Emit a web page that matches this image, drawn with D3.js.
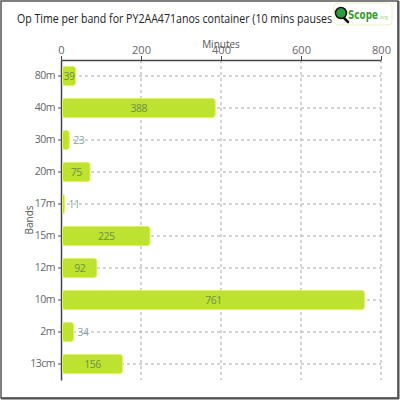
<!DOCTYPE html>
<html><head><meta charset="utf-8">
<script src="https://cdn.jsdelivr.net/npm/d3@7"></script>
<style>body{margin:0;background:#fff}svg{display:block}</style>
</head><body>
<script>
const bands = ["80m","40m","30m","20m","17m","15m","12m","10m","2m","13cm"];
const minutes = [39,388,23,75,11,225,92,761,34,156];
const xTicks = [0,200,400,600,800];
const title = "Op Time per band for PY2AA471anos container (10 mins pauses";

const W=400,H=400;
const svg=d3.select("body").append("svg").attr("width",W).attr("height",H);
const font="'Open Sans', sans-serif";
// frame
svg.append("rect").attr("x",1).attr("y",1).attr("width",397).attr("height",397)
  .attr("fill","#fff").attr("stroke","#555").attr("stroke-width",1.5);
svg.append("line").attr("x1",1).attr("x2",399).attr("y1",398.5).attr("y2",398.5).attr("stroke","#555").attr("stroke-width",2);
svg.append("line").attr("x1",398.5).attr("x2",398.5).attr("y1",1).attr("y2",399).attr("stroke","#555").attr("stroke-width",2);

svg.append("text").attr("x",17).attr("y",23).attr("font-family",font).attr("font-size",13)
  .attr("fill","#222").attr("textLength",315).attr("lengthAdjust","spacingAndGlyphs").text(title);

// logo
const lg=svg.append("g");
lg.append("rect").attr("x",334).attr("y",3).attr("width",58).attr("height",22).attr("rx",4)
  .attr("fill","none").attr("stroke","#eef0c8").attr("stroke-width",1);
lg.append("line").attr("x1",343).attr("y1",17).attr("x2",348).attr("y2",22).attr("stroke","#111").attr("stroke-width",2.5).attr("stroke-linecap","round");
lg.append("circle").attr("cx",341).attr("cy",13).attr("r",5.5).attr("fill","#2e9a3e").attr("stroke","#111").attr("stroke-width",1.5);
lg.append("text").attr("x",348).attr("y",19).attr("font-family","'DejaVu Sans Condensed',sans-serif").attr("font-weight","bold").attr("font-size",12)
  .attr("fill","#3a9a2a").attr("textLength",30).attr("lengthAdjust","spacingAndGlyphs").text("Scope");
lg.append("text").attr("x",379).attr("y",19).attr("font-family",font).attr("font-size",5).attr("fill","#a8d080").text(".org");

const m={l:61,r:381,t:60,b:380};
const x=d3.scaleLinear().domain([0,800]).range([m.l,m.r]);
const y=d3.scaleBand().domain(bands).range([m.t,m.b]).paddingInner(0.4).paddingOuter(0.2);

// grid
const g=svg.append("g");
g.selectAll(".vg").data(xTicks.slice(1)).join("line").attr("x1",d=>x(d)).attr("x2",d=>x(d))
  .attr("y1",m.t).attr("y2",m.b).attr("stroke","#aaa").attr("stroke-dasharray","3,3");
g.selectAll(".hg").data(bands).join("line").attr("x1",m.l).attr("x2",m.r)
  .attr("y1",d=>y(d)+y.bandwidth()/2).attr("y2",d=>y(d)+y.bandwidth()/2)
  .attr("stroke","#aaa").attr("stroke-dasharray","3,3");

// axes
const xa=svg.append("g").attr("transform",`translate(0,${m.t})`)
  .call(d3.axisTop(x).tickValues(xTicks).tickSize(4).tickSizeOuter(0).tickPadding(2));
xa.select(".domain").attr("stroke","#444").attr("stroke-width",1.5);
xa.selectAll(".tick line").attr("stroke","#444");
xa.selectAll("text").attr("font-family",font).attr("font-size",11).attr("fill","#666");
const ya=svg.append("g").attr("transform",`translate(${m.l},0)`)
  .call(d3.axisLeft(y).tickSize(3).tickSizeOuter(0));
ya.select(".domain").attr("stroke","#444").attr("stroke-width",1.5);
ya.selectAll(".tick line").attr("stroke","#444");
ya.selectAll("text").attr("font-family",font).attr("font-size",10.5).attr("fill","#666").attr("letter-spacing","-0.5");

svg.append("text").attr("x",(m.l+m.r)/2).attr("y",48).attr("text-anchor","middle")
  .attr("font-family",font).attr("font-size",10).attr("fill","#555").text("Minutes");
svg.append("text").attr("transform",`translate(33,${(m.t+m.b)/2}) rotate(-90)`).attr("text-anchor","middle")
  .attr("font-family",font).attr("font-size",10).attr("fill","#555").text("Bands");

// bars
const data=bands.map((b,i)=>({b,v:minutes[i]}));
const x0=x(0)+1.5;
svg.selectAll(".bar").data(data).join("rect")
  .attr("x",x0).attr("y",d=>y(d.b)).attr("width",d=>Math.max(1,x(d.v)-1-x0))
  .attr("height",y.bandwidth()).attr("rx",3)
  .attr("fill","#bde22f").attr("stroke","#dcf060").attr("stroke-width",1);
svg.selectAll(".lbl").data(data).join("text")
  .attr("x",d=>d.v>=35?(x0+(x(d.v)-1-x0)/2):x(d.v)+3)
  .attr("y",d=>y(d.b)+y.bandwidth()/2).attr("dy","0.35em")
  .attr("text-anchor",d=>d.v>=35?"middle":"start")
  .attr("font-family",font).attr("font-size",10.5).attr("letter-spacing","-0.5")
  .attr("fill",d=>d.v>=35?"#6f8f4a":"#86a6a6").text(d=>d.v);
</script>
</body></html>
